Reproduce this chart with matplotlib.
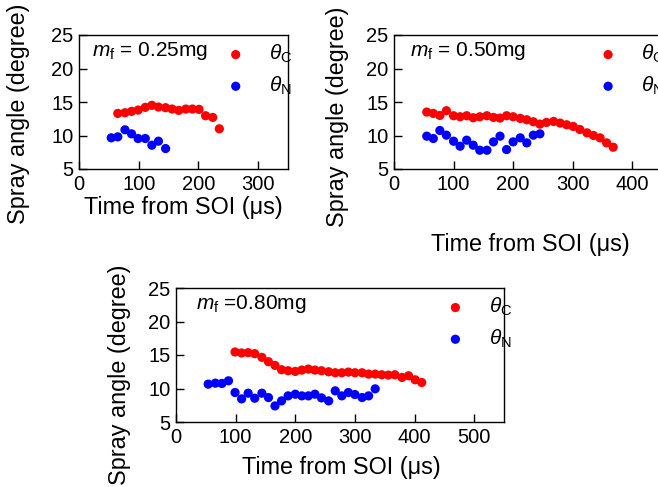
import matplotlib
matplotlib.use("Agg")
import matplotlib.pyplot as plt

plt.rcParams['font.family'] = ['Liberation Sans', 'DejaVu Sans']
plt.rcParams['mathtext.fontset'] = 'custom'
plt.rcParams['mathtext.rm'] = 'Liberation Sans'
plt.rcParams['mathtext.it'] = 'Liberation Sans:italic'

# ---- data ----
p1_c_x = [65, 77, 88, 99, 111, 122, 133, 145, 156, 167, 179, 190, 201, 212, 224, 235]
p1_c_y = [13.3, 13.4, 13.6, 13.8, 14.2, 14.5, 14.25, 14.15, 13.95, 13.75, 13.95, 13.95, 13.9, 12.95, 12.7, 11.0]
p1_n_x = [54, 65, 77, 88, 99, 111, 122, 133, 145]
p1_n_y = [9.65, 9.8, 10.85, 10.25, 9.55, 9.55, 8.55, 9.15, 8.05]

p2_c_x = [55, 66, 77, 88, 100, 111, 122, 133, 144, 156, 167, 178, 189, 200, 212, 223, 234,
          245, 256, 268, 279, 290, 301, 312, 324, 335, 346, 357, 368]
p2_c_y = [13.5, 13.3, 13.0, 13.7, 12.95, 12.8, 12.95, 12.65, 12.8, 12.95, 12.7, 12.6, 12.95,
          12.8, 12.55, 12.35, 12.05, 11.7, 11.95, 12.1, 11.85, 11.6, 11.35, 10.9, 10.4, 10.0,
          9.65, 8.9, 8.25]
p2_n_x = [55, 66, 77, 88, 100, 111, 122, 133, 144, 156, 167, 178, 189, 200, 212, 223, 234, 245]
p2_n_y = [9.9, 9.55, 10.75, 10.05, 9.15, 8.4, 9.3, 8.55, 7.8, 7.8, 9.05, 9.9, 7.9, 9.05, 9.65,
          8.9, 10.05, 10.25]

p3_c_x = [99, 110, 121, 132, 144, 155, 166, 177, 188, 200, 211, 222, 233, 244, 256, 267, 278,
          289, 300, 312, 323, 334, 345, 356, 367, 379, 390, 401, 412]
p3_c_y = [15.45, 15.3, 15.35, 15.2, 14.65, 14.0, 13.45, 12.8, 12.65, 12.55, 12.75, 12.9, 12.75,
          12.65, 12.5, 12.35, 12.35, 12.45, 12.35, 12.35, 12.15, 12.15, 12.05, 12.0, 12.05,
          11.65, 11.9, 11.3, 10.9]
p3_n_x = [54, 66, 77, 88, 99, 110, 121, 132, 144, 155, 166, 177, 188, 200, 211, 222, 233, 244,
          256, 267, 278, 289, 300, 312, 323, 334]
p3_n_y = [10.65, 10.8, 10.75, 11.15, 9.4, 8.45, 9.3, 8.55, 9.3, 8.65, 7.4, 8.15, 8.9, 9.15,
          8.9, 8.9, 9.15, 8.6, 8.15, 9.65, 8.9, 9.4, 9.1, 8.65, 8.9, 9.95]

yticks = [5, 10, 15, 20, 25]
xlabel_text = 'Time from SOI (\u03bcs)'
ylabel_text = 'Spray angle (degree)'

W, H = 658, 487
fig = plt.figure(figsize=(W / 100, H / 100), dpi=100)


def make_ax(left, top, width_px, xmax, xticks, c_x, c_y, n_x, n_y, note,
            xlab_xy, ylab_xy, leg_anchor):
    bottom = top + 134
    ax = fig.add_axes([left / W, 1 - bottom / H, width_px / W, 134 / H])
    ax.scatter(c_x, c_y, s=44, color='#ff0000', edgecolors='none', zorder=3,
               label=r'$\mathit{\theta}_{\rm C}$', clip_on=False)
    ax.scatter(n_x, n_y, s=44, color='#0000ff', edgecolors='none', zorder=3,
               label=r'$\mathit{\theta}_{\rm N}$', clip_on=False)
    ax.set_xticks(xticks)
    ax.set_yticks(yticks)
    ax.set_xlim(0, xmax)
    ax.set_ylim(5, 25)
    ax.tick_params(direction='in', length=6, width=1, labelsize=14.5, pad=4)
    for s in ax.spines.values():
        s.set_linewidth(1.0)
    ax.set_xlabel(xlabel_text, fontsize=16.8, va='center')
    ax.set_ylabel(ylabel_text, fontsize=16.8, va='center')
    ax.xaxis.set_label_coords(*xlab_xy)
    ax.yaxis.set_label_coords(*ylab_xy)
    ax.text(0.06, 0.88, note, transform=ax.transAxes, fontsize=15,
            ha='left', va='center')
    ax.legend(loc='upper left', bbox_to_anchor=leg_anchor, frameon=False,
              fontsize=15, handletextpad=1.1, labelspacing=0.45,
              borderpad=0, borderaxespad=0, handlelength=1.0, scatterpoints=1)
    return ax


make_ax(79, 35, 209, 350, [0, 100, 200, 300], p1_c_x, p1_c_y, p1_n_x, p1_n_y,
        r'$m_{\rm f}$ = 0.25mg', (0.50, -0.29), (-0.29, 0.41), (0.70, 0.94))
make_ax(394, 35, 268, 450, [0, 100, 200, 300, 400], p2_c_x, p2_c_y, p2_n_x, p2_n_y,
        r'$m_{\rm f}$ = 0.50mg', (0.507, -0.56), (-0.209, 0.39), (0.76, 0.94))
make_ax(176, 288, 328, 550, [0, 100, 200, 300, 400, 500], p3_c_x, p3_c_y, p3_n_x, p3_n_y,
        r'$m_{\rm f}$ =0.80mg', (0.503, -0.336), (-0.171, 0.354), (0.82, 0.94))

fig.savefig('out.png', dpi=100)
